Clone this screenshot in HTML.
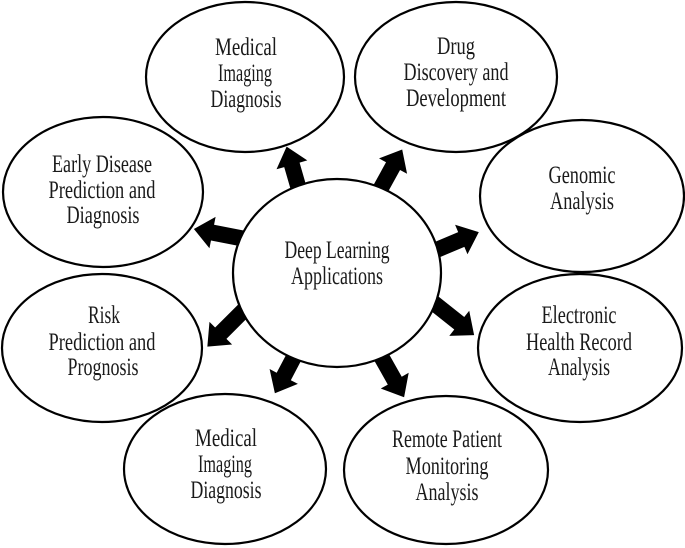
<!DOCTYPE html>
<html>
<head>
<meta charset="utf-8">
<style>
  html, body { margin: 0; padding: 0; background: #ffffff; }
  body { width: 685px; height: 548px; overflow: hidden; }
  svg { display: block; }
  text { font-family: "Liberation Serif", "Times New Roman", serif; font-size: 25px; fill: #1a1a1a; text-anchor: middle; }
</style>
</head>
<body>
<svg width="685" height="548" viewBox="0 0 685 548" xmlns="http://www.w3.org/2000/svg">
  <g fill="#ffffff" stroke="#000000" stroke-width="2.2">
    <ellipse cx="245" cy="77" rx="99" ry="75"/>
    <ellipse cx="456" cy="77" rx="101" ry="75"/>
    <ellipse cx="103" cy="192" rx="100" ry="75"/>
    <ellipse cx="582" cy="196" rx="102" ry="76"/>
    <ellipse cx="102" cy="348" rx="100" ry="74"/>
    <ellipse cx="580" cy="348" rx="102" ry="74"/>
    <ellipse cx="225" cy="469" rx="101" ry="75"/>
    <ellipse cx="446" cy="470" rx="102" ry="74"/>
  </g>

  <!-- arrows -->
  <g fill="#000000">
    <polygon points="-6,-8 22,-8 22,-16 41,0 22,16 22,8 -6,8" transform="translate(298,186) rotate(-106.1)"/>
    <polygon points="-6,-8 25,-8 25,-16 44,0 25,16 25,8 -6,8" transform="translate(381,188) rotate(-61.2)"/>
    <polygon points="-6,-8 22,-8 22,-16 41,0 22,16 22,8 -6,8" transform="translate(441,248) rotate(-22.8)"/>
    <polygon points="-6,-8 31,-8 31,-16 50,0 31,16 31,8 -6,8" transform="translate(435,304) rotate(38.5)"/>
    <polygon points="-6,-8 26,-8 26,-16 45,0 26,16 26,8 -6,8" transform="translate(382,358) rotate(60.6)"/>
    <polygon points="-6,-8 22,-8 22,-16 41,0 22,16 22,8 -6,8" transform="translate(294,357) rotate(117.8)"/>
    <polygon points="-6,-8 30,-8 30,-16 49,0 30,16 30,8 -6,8" transform="translate(242,312) rotate(135)"/>
    <polygon points="-6,-8 28,-8 28,-16 47,0 28,16 28,8 -6,8" transform="translate(240,238) rotate(-168.9)"/>
  </g>

  <ellipse cx="337" cy="273" rx="104" ry="94" fill="#ffffff" stroke="#000000" stroke-width="2.2"/>

  <!-- texts -->
  <text x="246" y="55" textLength="62" lengthAdjust="spacingAndGlyphs">Medical</text>
  <text x="245" y="81" textLength="54" lengthAdjust="spacingAndGlyphs">Imaging</text>
  <text x="246" y="107" textLength="71" lengthAdjust="spacingAndGlyphs">Diagnosis</text>

  <text x="456" y="54" textLength="38" lengthAdjust="spacingAndGlyphs">Drug</text>
  <text x="456" y="80" textLength="105" lengthAdjust="spacingAndGlyphs">Discovery and</text>
  <text x="456" y="106" textLength="100" lengthAdjust="spacingAndGlyphs">Development</text>

  <text x="102" y="172" textLength="100" lengthAdjust="spacingAndGlyphs">Early Disease</text>
  <text x="102" y="198" textLength="107" lengthAdjust="spacingAndGlyphs">Prediction and</text>
  <text x="103" y="223" textLength="73" lengthAdjust="spacingAndGlyphs">Diagnosis</text>

  <text x="582" y="183" textLength="67" lengthAdjust="spacingAndGlyphs">Genomic</text>
  <text x="582" y="209" textLength="64" lengthAdjust="spacingAndGlyphs">Analysis</text>

  <text x="337" y="258" textLength="105" lengthAdjust="spacingAndGlyphs">Deep Learning</text>
  <text x="337" y="284" textLength="92" lengthAdjust="spacingAndGlyphs">Applications</text>

  <text x="104" y="323" textLength="32" lengthAdjust="spacingAndGlyphs">Risk</text>
  <text x="102" y="350" textLength="107" lengthAdjust="spacingAndGlyphs">Prediction and</text>
  <text x="103" y="375" textLength="71" lengthAdjust="spacingAndGlyphs">Prognosis</text>

  <text x="579" y="323" textLength="75" lengthAdjust="spacingAndGlyphs">Electronic</text>
  <text x="579" y="350" textLength="106" lengthAdjust="spacingAndGlyphs">Health Record</text>
  <text x="579" y="375" textLength="62" lengthAdjust="spacingAndGlyphs">Analysis</text>

  <text x="226" y="446" textLength="62" lengthAdjust="spacingAndGlyphs">Medical</text>
  <text x="225" y="472" textLength="54" lengthAdjust="spacingAndGlyphs">Imaging</text>
  <text x="226" y="498" textLength="71" lengthAdjust="spacingAndGlyphs">Diagnosis</text>

  <text x="447" y="447" textLength="110" lengthAdjust="spacingAndGlyphs">Remote Patient</text>
  <text x="447" y="474" textLength="83" lengthAdjust="spacingAndGlyphs">Monitoring</text>
  <text x="447" y="500" textLength="63" lengthAdjust="spacingAndGlyphs">Analysis</text>
</svg>
</body>
</html>
